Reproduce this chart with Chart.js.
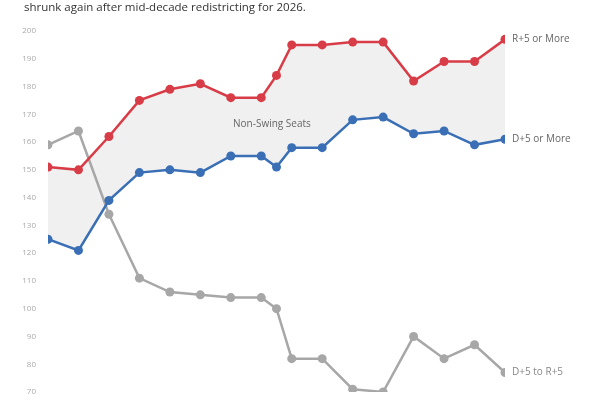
<!DOCTYPE html>
<html>
<head>
<meta charset="utf-8">
<script src="https://cdn.jsdelivr.net/npm/chart.js@4/dist/chart.umd.min.js"></script>
<style>
  html, body { margin: 0; padding: 0; background: #fff; }
  canvas { display: block; }
</style>
</head>
<body>
<canvas id="seatsChart" width="600" height="400"></canvas>
<script>
// Election years (2011 = post-redistricting map)
const years = [1996, 1998, 2000, 2002, 2004, 2006, 2008, 2010, 2011, 2012, 2014, 2016, 2018, 2020, 2022, 2024, 2026];
const rPlus5 = [151, 150, 162, 175, 179, 181, 176, 176, 184, 195, 195, 196, 196, 182, 189, 189, 197];
const dPlus5 = [125, 121, 139, 149, 150, 149, 155, 155, 151, 158, 158, 168, 169, 163, 164, 159, 161];
const swing = [159, 164, 134, 111, 106, 105, 104, 104, 100, 82, 82, 71, 70, 90, 82, 87, 77];
const yTicks = [70, 80, 90, 100, 110, 120, 130, 140, 150, 160, 170, 180, 190, 200];

const subtitle = 'shrunk again after mid-decade redistricting for 2026.';
const seriesLabels = ['R+5 or More', 'D+5 or More', 'D+5 to R+5'];
const areaLabel = { text: 'Non-Swing Seats', x: 2010.7, y: 166.3 };

const RED = '#d83c47';
const BLUE = '#3a6fb6';
const GREY = '#a7a7a7';

const toPoints = vals => vals.map((v, i) => ({ x: years[i], y: v }));

const lineStyle = color => ({
    borderColor: color,
    backgroundColor: color,
    pointBackgroundColor: color,
    pointBorderColor: color,
    borderWidth: 2.5,
    pointRadius: 4.5,
    pointBorderWidth: 0,
    pointHoverRadius: 4.5,
    tension: 0
});

// texts: subtitle, end-of-line labels, shaded area label
const textPlugin = {
    id: 'texts',
    afterDatasetsDraw(chart) {
        const ctx = chart.ctx;
        const xs = chart.scales.x, ys = chart.scales.y;
        ctx.save();
        ctx.textBaseline = 'middle';

        ctx.font = '11.5px "Open Sans", sans-serif';
        ctx.fillStyle = '#333';
        ctx.textAlign = 'left';
        ctx.fillText(subtitle, 24, 8);

        ctx.font = '10px "Open Sans", sans-serif';
        ctx.fillStyle = '#666';
        ctx.textAlign = 'center';
        ctx.fillText(areaLabel.text, xs.getPixelForValue(areaLabel.x), ys.getPixelForValue(areaLabel.y));

        const colors = ['#666', '#666', '#888'];
        chart.data.datasets.forEach((ds, i) => {
            const meta = chart.getDatasetMeta(i);
            const last = meta.data[meta.data.length - 1];
            ctx.font = '10px "Open Sans", sans-serif';
            ctx.fillStyle = colors[i];
            ctx.textAlign = 'left';
            ctx.fillText(seriesLabels[i], last.x + 7, last.y);
        });
        ctx.restore();
    }
};

const chart = new Chart(document.getElementById('seatsChart'), {
    type: 'line',
    data: {
        datasets: [
            { label: seriesLabels[0], data: toPoints(rPlus5), fill: { target: 1 }, ...lineStyle(RED), backgroundColor: '#f0f0f0' },
            { label: seriesLabels[1], data: toPoints(dPlus5), fill: false, ...lineStyle(BLUE) },
            { label: seriesLabels[2], data: toPoints(swing), fill: false, ...lineStyle(GREY) }
        ]
    },
    options: {
        responsive: false,
        animation: false,
        layout: { autoPadding: false, padding: { top: 31, right: 95, bottom: 8, left: 0 } },
        plugins: {
            legend: { display: false },
            tooltip: { enabled: false },
            title: { display: false },
            filler: { drawTime: 'beforeDatasetsDraw' }
        },
        scales: {
            x: {
                type: 'linear',
                min: years[0],
                max: years[years.length - 1],
                display: false
            },
            y: {
                min: yTicks[0],
                max: yTicks[yTicks.length - 1],
                afterBuildTicks: axis => { axis.ticks = yTicks.map(v => ({ value: v })); },
                afterFit: axis => { axis.width = 48; },
                // hidden tick marks still reserve 12px between label and plot
                grid: { display: false, drawTicks: true, tickLength: 12 },
                border: { display: false },
                ticks: {
                    padding: 0,
                    color: '#aaa',
                    font: { family: '"Open Sans", sans-serif', size: 8 }
                }
            }
        }
    },
    plugins: [textPlugin]
});
</script>
</body>
</html>
